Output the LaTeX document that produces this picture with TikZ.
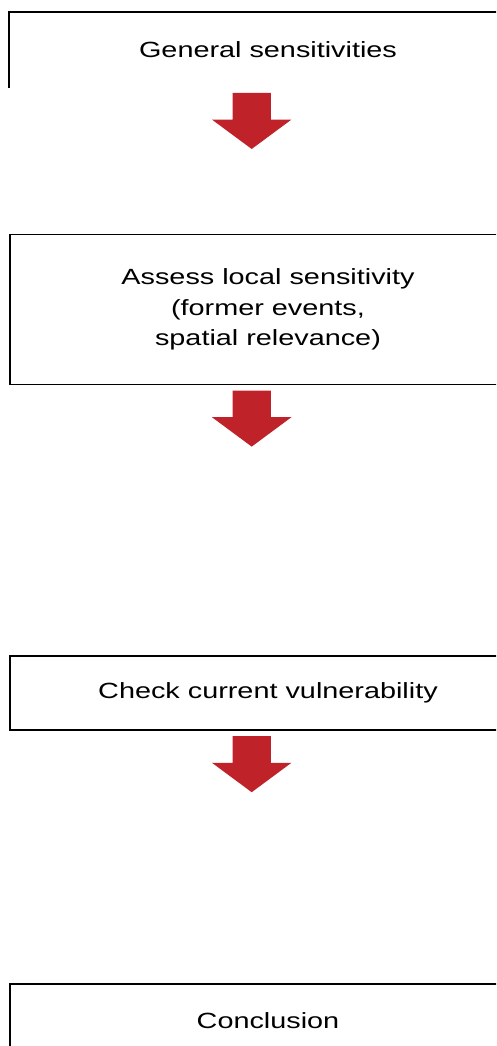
\documentclass[tikz,border=0pt]{standalone}
\usepackage{fontspec}
\setmainfont{Liberation Sans}[FakeStretch=1.31]
\usepackage{tikz}
\usetikzlibrary{positioning,shapes.arrows}

\definecolor{arrowred}{RGB}{192,34,42}

\begin{document}
\begin{tikzpicture}[x=1pt, y=1pt,
  box/.style={minimum width=516pt, minimum height=74pt, inner sep=0pt, align=center,
    font=\fontsize{22}{30.5}\selectfont, line width=1.6pt},
  bigarrow/.style={single arrow, fill=arrowred, draw=none, rotate=-90,
    inner xsep=0pt, inner ysep=19pt, minimum height=56pt,
    single arrow head extend=20.5pt, single arrow tip angle=107, anchor=tail}]

\clip (0,0) rectangle (496,-1046);
\useasboundingbox (0,0) rectangle (496,-1046);

% Boxes
\node[box] (general) at (268,-50) {General sensitivities};
\node[box, draw, minimum height=150pt] (assess) [below=146pt of general] {Assess local sensitivity\\(former events,\\spatial relevance)};
\node[box, draw] (check) [below=270pt of assess] {Check current vulnerability};
\node[box, draw] (conclusion) [below=252pt of check] {Conclusion};

% First box shows only its top and left sides
\draw[line width=1.6pt] (general.south west) -- (general.north west) -- (general.north east);

% Arrows
\node[bigarrow] (arrow1) at ([xshift=242.5pt, yshift=-5pt]general.south west) {};
\node[bigarrow] (arrow2) at ([xshift=242.5pt, yshift=-5pt]assess.south west) {};
\node[bigarrow] (arrow3) at ([xshift=242.5pt, yshift=-5pt]check.south west) {};

\end{tikzpicture}
\end{document}
